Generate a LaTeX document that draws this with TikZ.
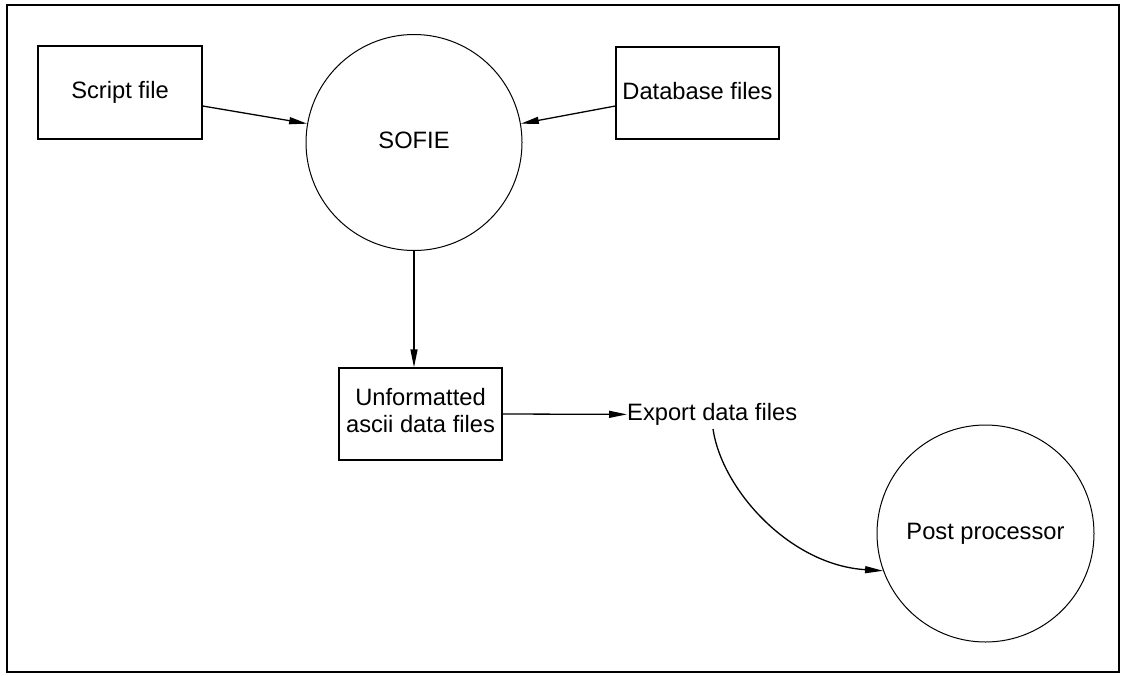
\documentclass[tikz,border=0pt]{standalone}
\usepackage{fontspec}
\setmainfont{Liberation Sans}
\usetikzlibrary{arrows.meta,calc}
\begin{document}
\begin{tikzpicture}[x=1pt,y=-1pt,
  every node/.style={font=\fontsize{23.7}{27}\selectfont},
  box/.style={draw,line width=1.3pt,inner sep=0pt,align=center},
  proc/.style={draw,circle,line width=1pt,minimum size=216pt,inner sep=0pt},
  flow/.style={line width=1.3pt,-{Triangle[length=18pt,width=7pt]}},
  frame/.style={line width=2.5pt}]
\useasboundingbox (0,0) rectangle (1121,675);
\draw[frame] (7,5) rectangle (1119,672);

\node[box,minimum width=164pt,minimum height=93pt] (script) at (120,92.5) {\raisebox{4.5pt}{Script file}};
\node[box,minimum width=163pt,minimum height=92pt] (db) at (697.5,93) {\raisebox{5pt}{Database files}};
\node[proc] (sofie) at (414,142.5) {\raisebox{4.5pt}{SOFIE}};
\node[box,minimum width=163pt,minimum height=92pt] (unf) at (420.5,414)
  {\raisebox{4pt}{\begin{tabular}{@{}c@{}}Unformatted\\ascii data files\end{tabular}}};
\node[inner sep=0pt,anchor=base west] (export) at (627,420.5) {Export data files};
\node[proc,minimum size=217pt] (post) at (985.5,533.5) {\raisebox{3.5pt}{Post processor}};
\coordinate (exs) at (713,429);

\draw[flow] ($(script.east)+(0,13.5)$) -- (sofie.170);
\draw[flow] ($(db.west)+(0,13)$) -- (sofie.10);
\draw[flow] (sofie.south) -- (sofie.south |- unf.north);
\draw[flow] (unf.east) -- (export.west);
\draw[flow] (exs) .. controls (722,490) and (790,565) .. (post.200);
\end{tikzpicture}
\end{document}
